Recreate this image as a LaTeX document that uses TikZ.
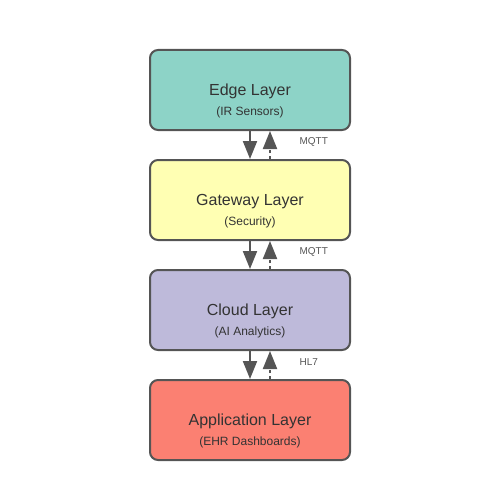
\documentclass[tikz,border=0pt]{standalone}
\usepackage{fontspec}
\setmainfont{Liberation Sans}
\usetikzlibrary{arrows.meta}
\definecolor{edgec}{HTML}{8DD3C7}
\definecolor{gatec}{HTML}{FFFFB3}
\definecolor{cloudc}{HTML}{BEBADA}
\definecolor{appc}{HTML}{FB8072}
\definecolor{linec}{HTML}{555555}
\definecolor{txtc}{HTML}{333333}
\tikzset{
  layer/.style={draw=linec, line width=2pt, rounded corners=8pt, minimum width=200pt, minimum height=80pt, inner sep=0pt},
  ttl/.style={text=txtc, font=\fontsize{16}{18}\selectfont},
  sub/.style={text=txtc, font=\fontsize{12}{14}\selectfont},
  proto/.style={text=linec, font=\fontsize{10}{12}\selectfont, anchor=west},
  downarr/.style={draw=linec, line width=2pt, -{Triangle[length=18pt,width=14pt]}},
  uparr/.style={draw=linec, line width=2pt, dash pattern=on 3pt off 3pt, -{Triangle[length=18pt,width=14pt]}},
}
\begin{document}
\begin{tikzpicture}[x=1pt,y=-1pt]
\useasboundingbox (0,0) rectangle (500,500);
\node[layer, fill=edgec] (edge) at (250,90) {};
\node[layer, fill=gatec] (gate) at (250,200) {};
\node[layer, fill=cloudc] (cloud) at (250,310) {};
\node[layer, fill=appc] (app) at (250,420) {};
\node[ttl] (t1) at (250,91.5) {Edge Layer};
\node[sub] (s1) at (250,112) {(IR Sensors)};
\node[ttl] (t2) at (250,201.5) {Gateway Layer};
\node[sub] (s2) at (250,222) {(Security)};
\node[ttl] (t3) at (250,311.5) {Cloud Layer};
\node[sub] (s3) at (250,332) {(AI Analytics)};
\node[ttl] (t4) at (250,421.5) {Application Layer};
\node[sub] (s4) at (250,442) {(EHR Dashboards)};
\draw[downarr] (edge.south) -- (gate.north);
\draw[uparr] ([xshift=20pt]gate.north) -- ([xshift=20pt]edge.south);
\draw[downarr] (gate.south) -- (cloud.north);
\draw[uparr] ([xshift=20pt]cloud.north) -- ([xshift=20pt]gate.south);
\draw[downarr] (cloud.south) -- (app.north);
\draw[uparr] ([xshift=20pt]app.north) -- ([xshift=20pt]cloud.south);
\node[proto] (p1) at (296,142) {MQTT};
\node[proto] (p2) at (296,252) {MQTT};
\node[proto] (p3) at (296,362) {HL7};
\end{tikzpicture}
\end{document}
